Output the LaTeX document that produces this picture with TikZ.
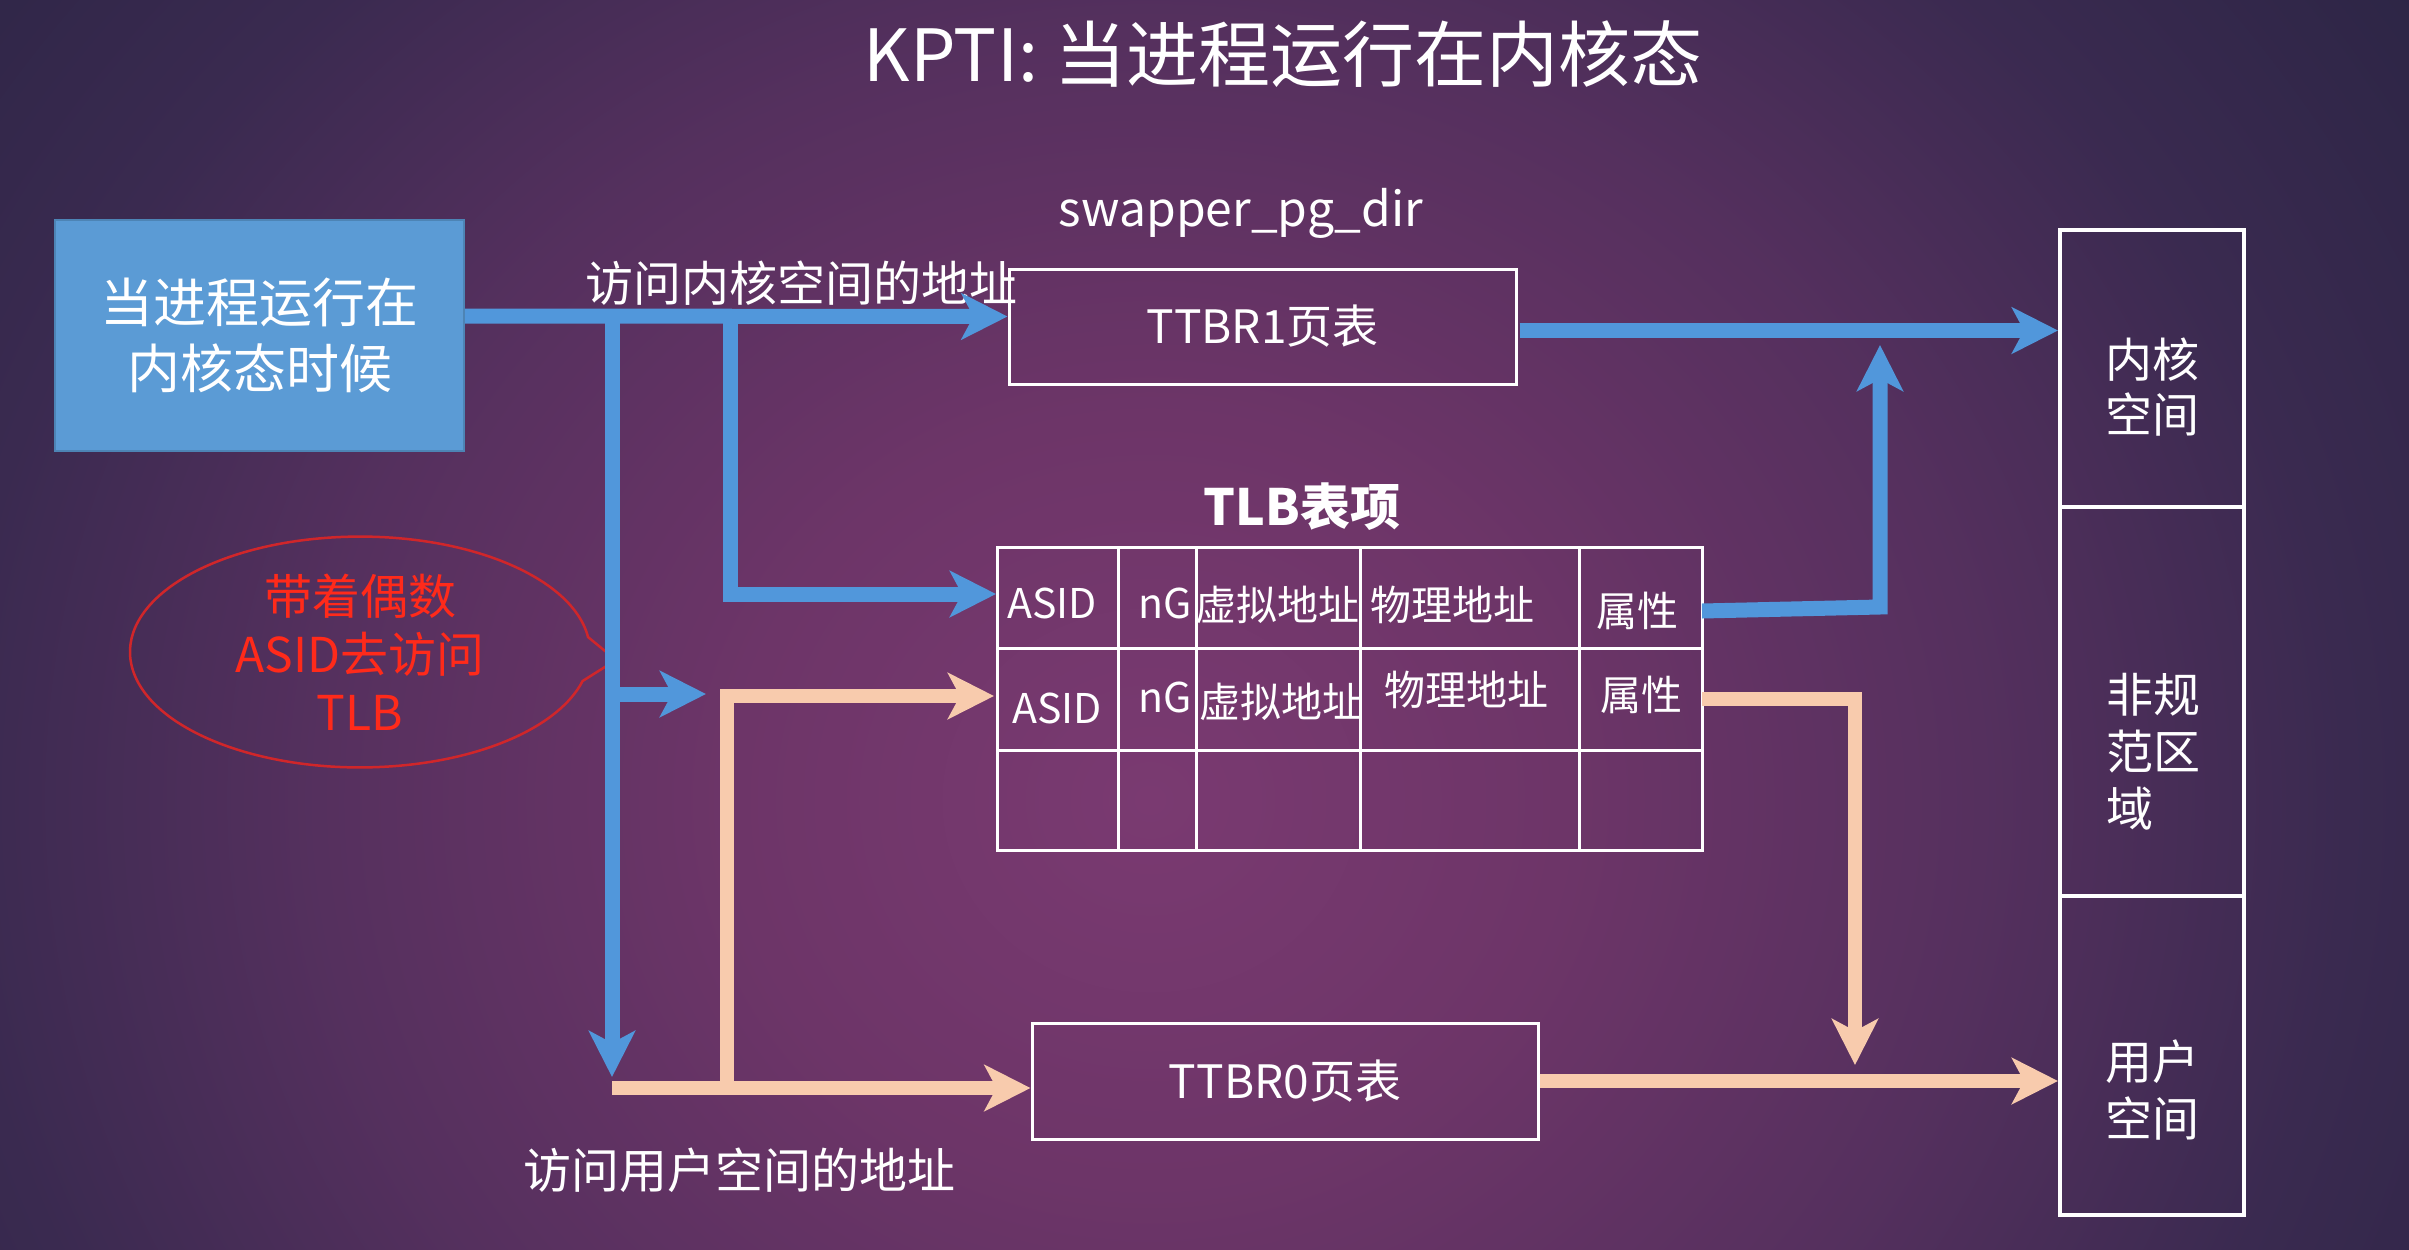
\documentclass[tikz,border=0pt]{standalone}
\usepackage{fontspec}
\setmainfont{Noto Sans CJK SC}
\usetikzlibrary{arrows.meta,shapes.callouts,shapes.geometric}
\definecolor{bgin}{HTML}{7A3A71}
\definecolor{bgc1}{HTML}{6D3568}
\definecolor{bgc2}{HTML}{55305E}
\definecolor{bgc3}{HTML}{3A2A50}
\definecolor{bgout}{HTML}{2C2545}
\definecolor{boxblue}{HTML}{5B9BD5}
\definecolor{arrblue}{HTML}{5197DB}
\definecolor{peach}{HTML}{F8CBAD}
\definecolor{calred}{HTML}{D0262A}
\definecolor{redtext}{HTML}{FF2A1A}
\pgfdeclareradialshading{bgshade}{\pgfpoint{0bp}{0bp}}{color(0bp)=(bgin); color(8bp)=(bgc1); color(16bp)=(bgc2); color(23bp)=(bgc3); color(30bp)=(bgout); color(50bp)=(bgout)}
\newcommand{\fsz}[1]{\fontsize{#1}{#1}\selectfont}
\begin{document}
\begin{tikzpicture}[x=1pt,y=-1pt,
  tip/.style={-{Stealth[length=46pt,width=46pt,inset=12pt]}},
  barrow/.style={draw=arrblue, line width=15pt, tip},
  parrow/.style={draw=peach, line width=14pt, tip},
  wbox/.style={draw=white, line width=3pt, inner sep=0pt},
  wline/.style={draw=white, line width=3pt},
  lbl/.style={text=white, inner sep=0pt},
]
\useasboundingbox (0,0) rectangle (2409,1250);
\begin{scope}
\clip (0,0) rectangle (2409,1250);
\shade[shading=bgshade] (-150,-400) rectangle (2450,2000);
\end{scope}

% title
\node[lbl, font=\fsz{72}] (title) at (1283,54) {KPTI: 当进程运行在内核态};

% process box
\node[fill=boxblue, draw=boxblue!85!black, line width=2pt, minimum width=409pt, minimum height=231pt,
      align=center, text=white, font=\fontsize{53}{66}\selectfont] (proc) at (259.5,335) {当进程运行在\\内核态时候};

% TTBR1
\node[wbox, minimum width=507pt, minimum height=115pt] (ttbr1) at (1262.5,326.5) {};
\node[lbl, font=\fsz{46}] (ttbr1t) at (ttbr1) {TTBR1页表};
\node[lbl, font=\fsz{48}] (swp) at (1241,213) {swapper\_pg\_dir};
\node[lbl, font=\fsz{48}] (kaddr) at (801,283) {访问内核空间的地址};

% TTBR0
\node[wbox, minimum width=506pt, minimum height=116pt] (ttbr0) at (1285,1081) {};
\node[lbl, font=\fsz{46}] (ttbr0t) at (ttbr0) {TTBR0页表};
\node[lbl, font=\fsz{48}] (uaddr) at (739,1170) {访问用户空间的地址};

% TLB table
\node[lbl, font=\bfseries\fsz{50}] (tlbt) at (1302,507) {TLB表项};
\node[wbox, minimum width=705pt, minimum height=303pt] (tlb) at (1349.5,698.5) {};
\draw[wline] (997,648) -- (1702,648);
\draw[wline] (997,750) -- (1702,750);
\foreach \xx in {1118,1196,1360,1579} \draw[wline] (\xx,547) -- (\xx,850);
\node[lbl, font=\fsz{41}] (a1) at (1052,603) {ASID};
\node[lbl, font=\fsz{41}, anchor=east] (n1) at (1192,603) {nG};
\node[lbl, font=\fsz{41}] (v1) at (1277,605) {虚拟地址};
\node[lbl, font=\fsz{41}] (p1) at (1452,605) {物理地址};
\node[lbl, font=\fsz{41}] (s1) at (1637,611) {属性};
\node[lbl, font=\fsz{41}] (a2) at (1057,708) {ASID};
\node[lbl, font=\fsz{41}, anchor=east] (n2) at (1192,697) {nG};
\node[lbl, font=\fsz{41}] (v2) at (1281,702) {虚拟地址};
\node[lbl, font=\fsz{41}] (p2) at (1466,690) {物理地址};
\node[lbl, font=\fsz{41}] (s2) at (1641,695) {属性};

% address space column
\node[draw=white, line width=4pt, minimum width=184pt, minimum height=277pt, inner sep=0pt] (kern) at (2152,368.5) {};
\node[draw=white, line width=4pt, minimum width=184pt, minimum height=389pt, inner sep=0pt] (nonc) at (2152,701.5) {};
\node[draw=white, line width=4pt, minimum width=184pt, minimum height=319pt, inner sep=0pt] (user) at (2152,1055.5) {};
\node[lbl, align=center, font=\fontsize{47}{55}\selectfont] (kernt) at (2152,387) {内核\\空间};
\node[lbl, align=left, font=\fontsize{47}{57}\selectfont, anchor=west] (nonct) at (2106,752) {非规\\范区\\域};
\node[lbl, align=center, font=\fontsize{47}{57}\selectfont] (usert) at (2152,1090) {用户\\空间};

% callout
\coordinate (ptip) at (616,660);
\node[ellipse callout, draw=calred, line width=2.5pt, minimum width=460pt, minimum height=212pt,
      callout absolute pointer={(ptip)}, callout pointer arc=22, align=center, text=redtext,
      font=\fontsize{48}{58}\selectfont] (call) at (360,652) {带着偶数\\ASID去访问\\TLB};

% junctions
\coordinate (j1) at (612,316);
\coordinate (j2) at (730,316);
\coordinate (bdown) at (612,1077);
\coordinate (bmid) at (612,694);
\coordinate (bmidtip) at (706,694);
\coordinate (r1w) at (996,594);
\coordinate (r2w) at (994,696);
\coordinate (r1e) at (1702,611);
\coordinate (r2e) at (1702,699);
\coordinate (c1) at (1880,607);
\coordinate (c1tip) at (1880,345);
\coordinate (c2) at (1855,699);
\coordinate (c2tip) at (1855,1065);
\coordinate (ostart) at (612,1088);
\coordinate (ovb) at (727,1081);
\coordinate (ovt) at (727,696);

% blue arrows
\draw[barrow] ([yshift=19pt]proc.east) -- ([yshift=10pt]ttbr1.west);
\draw[barrow] (j1) -- (bdown);
\draw[barrow] (bmid) -- (bmidtip);
\draw[barrow] (j2) -- (j2 |- r1w) -- (r1w);
\draw[barrow] (r1e) -- (c1) -- (c1tip);
\draw[barrow] ([xshift=2pt,yshift=-4pt]ttbr1.east) -- ([yshift=-4pt]ttbr1.east -| kern.west);

% peach arrows
\draw[parrow] (ostart) -- ([yshift=-7pt]ttbr0.west);
\draw[parrow] (ovb) -- (ovt) -- (r2w);
\draw[parrow] (r2e) -- (c2) -- (c2tip);
\draw[parrow] (ttbr0.east) -- (ttbr0.east -| user.west);
\end{tikzpicture}
\end{document}
